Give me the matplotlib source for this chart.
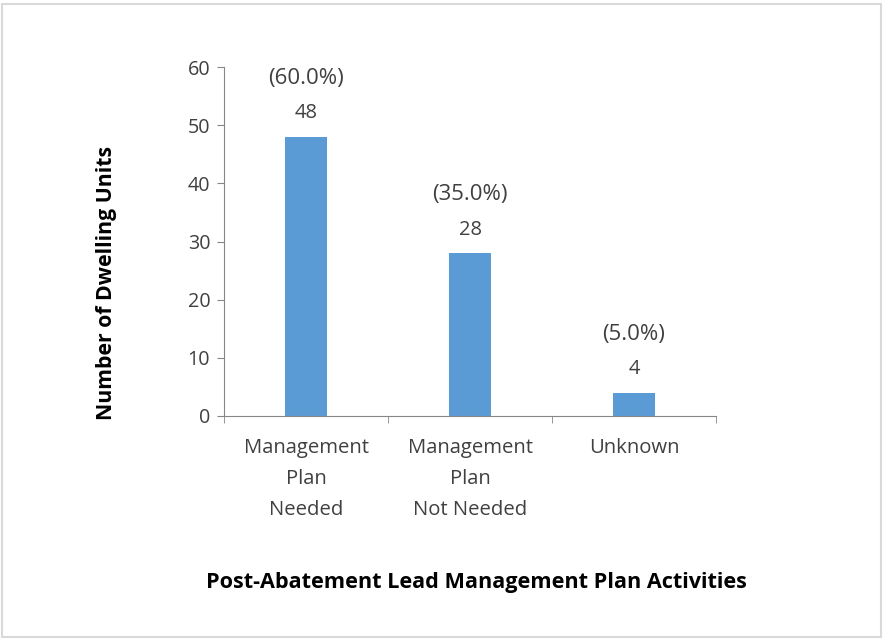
import matplotlib.pyplot as plt
from matplotlib.patches import Rectangle

# Data
categories = ['Management\nPlan\nNeeded', 'Management\nPlan\nNot Needed', 'Unknown']
units = [48, 28, 4]
percents = ['(60.0%)', '(35.0%)', '(5.0%)']

plt.rcParams['font.family'] = ['Open Sans', 'DejaVu Sans']
axis_grey = '#868686'
text_col = '#404040'

fig = plt.figure(figsize=(8.83, 6.39), dpi=100)
ax = fig.add_axes([0.2537, 0.349, 0.8109 - 0.2537, 0.8951 - 0.349])

x = range(len(categories))
ax.bar(x, units, width=0.256, color='#5B9BD5')

for xi, v, p in zip(x, units, percents):
    ax.annotate(str(v), (xi, v), xytext=(0, 17), textcoords='offset points',
                ha='center', va='center', fontsize=14.5, color=text_col)
    ax.annotate(p, (xi, v), xytext=(0, 42), textcoords='offset points',
                ha='center', va='center', fontsize=16, color=text_col)

ax.set_xlim(-0.5, 2.5)
ax.set_ylim(0, 60)
ax.set_yticks(range(0, 61, 10))
ax.set_xticks(x)
ax.set_xticklabels(categories, fontsize=14.6, color=text_col, linespacing=1.72)
ax.set_xticks([-0.5, 0.5, 1.5, 2.5], minor=True)
ax.tick_params(axis='x', which='major', length=0, pad=16)
ax.tick_params(axis='x', which='minor', length=5, color=axis_grey)
ax.tick_params(axis='y', length=5, color=axis_grey, labelsize=14.2, labelcolor=text_col, pad=5)

for s in ['top', 'right']:
    ax.spines[s].set_visible(False)
for s in ['left', 'bottom']:
    ax.spines[s].set_color(axis_grey)

fig.text(0.121, 0.557, 'Number of Dwelling Units', rotation=90, ha='center', va='center',
         fontsize=15.3, fontweight='bold', color='black')
fig.text(0.540, 0.089, 'Post-Abatement Lead Management Plan Activities', ha='center', va='center',
         fontsize=15.6, fontweight='bold', color='black')

fig.patches.append(Rectangle((0.002, 0.003), 0.996, 0.991, transform=fig.transFigure,
                             fill=False, edgecolor='#d9d9d9', linewidth=1.5))

fig.savefig('out.png', dpi=100)
